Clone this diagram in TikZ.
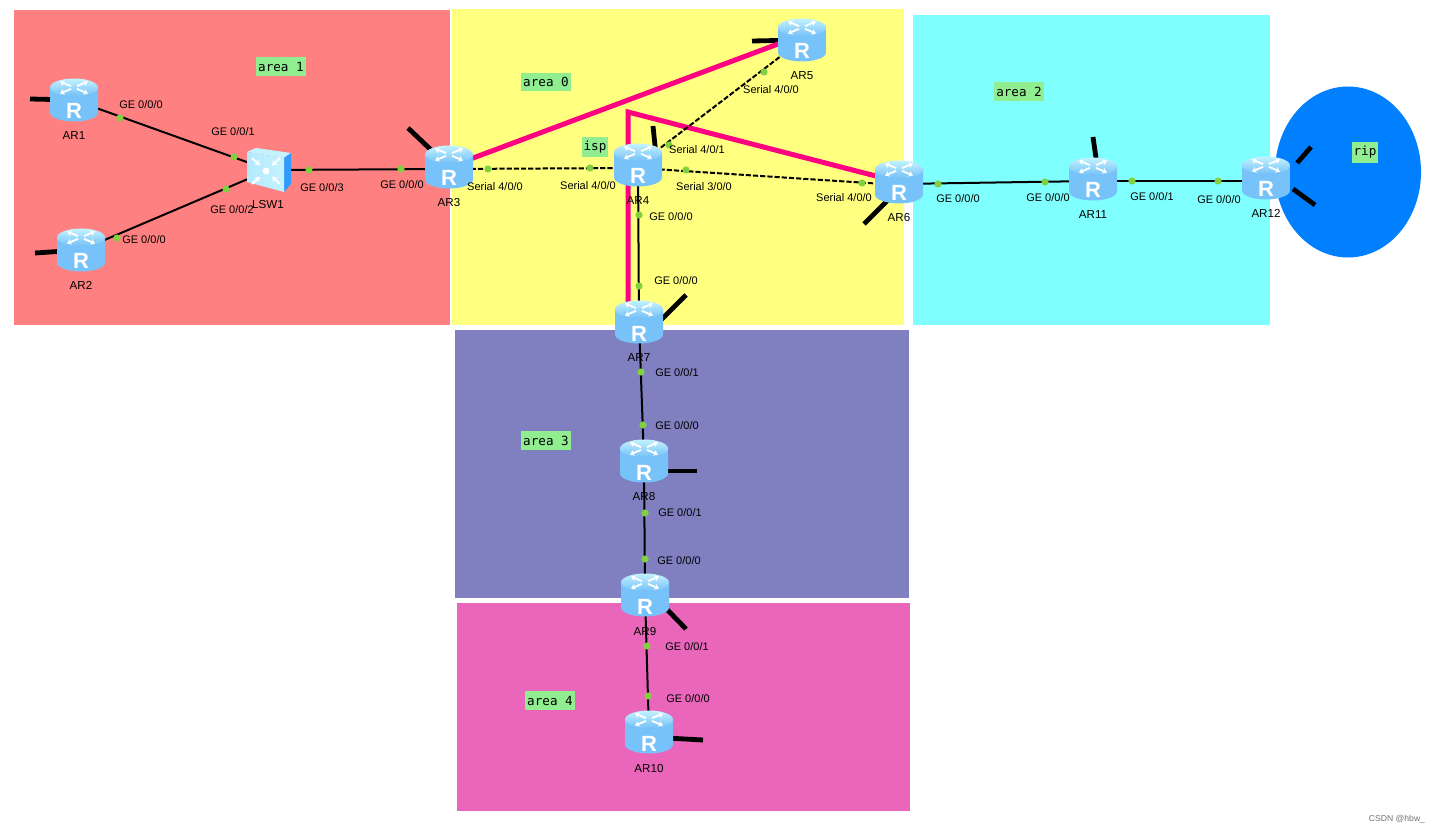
\documentclass[tikz,border=0pt]{standalone}
\usepackage{fontspec}
\setmainfont{Liberation Sans}
\newfontfamily\tagfont{DejaVu Sans Mono}
\usetikzlibrary{arrows.meta, positioning, backgrounds}

\definecolor{areared}{HTML}{FF8080}
\definecolor{areayellow}{HTML}{FFFF80}
\definecolor{areacyan}{HTML}{80FFFF}
\definecolor{areapurple}{HTML}{8080C0}
\definecolor{areapink}{HTML}{E966BB}
\definecolor{ripblue}{HTML}{0080FF}
\definecolor{tagbg}{HTML}{90EE90}
\definecolor{portgreen}{HTML}{80D040}
\definecolor{peerpink}{HTML}{FF0080}
\definecolor{bodyedge}{HTML}{78C2FA}
\definecolor{bodymid}{HTML}{B4EAFF}
\definecolor{toplight}{HTML}{C4F2FF}
\definecolor{topdark}{HTML}{74C0F8}
\newcommand{\routerR}{\raisebox{-9.5pt}[0pt][0pt]{R}}

\begin{document}
\begin{tikzpicture}[
    x=0.5pt, y=-0.5pt,
    routerbody/.pic={
        \shade[left color=bodyedge, middle color=bodymid, right color=bodyedge]
            (-12pt,6.25pt) -- (-12pt,-6.25pt) arc[start angle=180, end angle=360, x radius=12pt, y radius=4.5pt] -- (12pt,6.25pt) -- cycle;
        \shade[top color=toplight, bottom color=topdark] (0pt,6.25pt) ellipse[x radius=12pt, y radius=4.5pt];
        \foreach \dx/\dy in {1/1,-1/1,1/-1,-1/-1}
            \draw[white, line width=0.9pt, -{Stealth[length=2.2pt, width=3pt]}]
                (\dx*1.5pt,6.25pt+\dy*0.7pt) -- (\dx*7pt,6.25pt+\dy*3pt);
    },
    lswbody/.pic={
        \fill[toplight] (-11pt,9pt) -- (-6.5pt,11pt) -- (11pt,8.5pt) -- (7.5pt,6pt) -- cycle;
        \fill[ripblue!60!bodyedge] (7.5pt,6pt) -- (11pt,8.5pt) -- (11pt,-7pt) -- (7.5pt,-11pt) -- cycle;
        \shade[left color=bodymid, right color=toplight] (-11pt,9pt) -- (7.5pt,6pt) -- (7.5pt,-11pt) -- (-11pt,-6pt) -- cycle;
        \fill[white] (-1.5pt,-0.5pt) circle[radius=1.7pt];
        \foreach \dx/\dy in {1/1,-1/1,1/-1,-1/-1}
            \draw[white, line width=1pt, -{Stealth[length=2.6pt, width=3.2pt]}]
                (-1.5pt+\dx*7pt,-0.5pt+\dy*6.5pt) -- (-1.5pt+\dx*3pt,-0.5pt+\dy*2.8pt);
    },
    router/.style={minimum width=24pt, minimum height=21.5pt, inner sep=0pt, text=white,
        font=\fontsize{11}{11}\selectfont\bfseries},
    lswbox/.style={minimum width=22pt, minimum height=22pt, inner sep=0pt},
    port/.style={circle, fill=portgreen, minimum size=3.6pt, inner sep=0pt},
    ifname/.style={inner sep=0pt, font=\fontsize{5.5}{5.5}\selectfont},
    devname/.style={inner sep=0pt, font=\fontsize{5.8}{5.8}\selectfont},
    areatag/.style={fill=tagbg, inner xsep=1pt, inner ysep=2.2pt, font=\fontsize{6.3}{6.3}\tagfont},
    link/.style={line width=1pt, black},
    serial/.style={line width=1pt, black, dash pattern=on 2.6pt off 1pt},
    peer/.style={line width=2.5pt, peerpink},
    stub/.style={line width=2.4pt, black}
]
\useasboundingbox (0,0) rectangle (1442,834);

% devices
\foreach \n/\x/\y/\t in {ar1/74/100/AR1, ar2/81/250/AR2, ar3/449/167/AR3, ar4/638/165/AR4,
    ar5/802/40/AR5, ar6/899/182/AR6, ar7/639/322/AR7, ar8/644/461/AR8, ar9/645/595/AR9,
    ar10/649/732/AR10, ar11/1093/179/AR11, ar12/1266/178/AR12} {
    \pic at (\x,\y) {routerbody};
    \node[router] (\n) at (\x,\y) {\routerR};
    \node[devname, below=4.8pt of \n] (\n name) {\t};
}
\pic at (269,170) {lswbody};
\node[lswbox] (lsw1) at (269,170) {};
\node[devname, below=4pt of lsw1, xshift=-0.5pt] (lsw1 name) {LSW1};

\begin{scope}[on background layer]
% areas
\fill[areared] (14,10) rectangle (450,325);
\fill[areayellow] (452,9) rectangle (904,325);
\fill[areacyan] (913,15) rectangle (1270,325);
\fill[areapurple] (455,330) rectangle (909,598);
\fill[areapink] (457,603) rectangle (910,811);
\fill[ripblue] (1348,172) ellipse[x radius=73, y radius=85.5];

% loopbacks
\draw[stub] (ar1.center) -- (30,99);
\draw[stub] (ar2.center) -- (35,253);
\draw[stub] (ar3.center) -- (408,128);
\draw[stub] ([xshift=9.5pt]ar4.center) -- (653,126);
\draw[stub] (ar5.center) -- (752,41);
\draw[stub] ([xshift=3.5pt]ar6.center) -- (864,224);
\draw[stub] ([xshift=10pt]ar7.center) -- (686,295);
\draw[stub] ([yshift=-5pt]ar8.center) -- (697,471);
\draw[stub] ([xshift=4pt]ar9.center) -- (686,629);
\draw[stub] ([yshift=-2.5pt]ar10.center) -- (703,740);
\draw[stub] ([xshift=3pt]ar11.center) -- (1093,137);
\coordinate (rip1) at (1311,147);
\coordinate (rip2) at (1315,205);
\draw[stub, shorten <=10pt] ([xshift=9pt]ar12.center) -- (rip1);
\draw[stub, shorten <=9.3pt] ([xshift=6pt]ar12.center) -- (rip2);

% tunnels
\coordinate (bend) at (628,112);
\draw[peer] ([yshift=2.5pt]ar5.center) -- (ar3.center);
\draw[peer] ([xshift=-5.5pt]ar7.center) -- (bend) -- (ar6.center);

% links
\draw[link] (ar1.center) -- (lsw1.center);
\draw[link] (ar2.center) -- (lsw1.center);
\draw[link] (lsw1.center) -- ([yshift=-1pt]ar3.center);
\draw[serial] ([yshift=-1pt]ar3.center) -- ([yshift=-1.5pt]ar4.center);
\draw[serial] (ar4.center) -- (ar5.center);
\draw[serial] ([yshift=-1.5pt]ar4.center) -- ([yshift=-1.5pt]ar6.center);
\draw[link] (ar4.center) -- (ar7.center);
\draw[link] (ar7.center) -- (ar8.center);
\draw[link] (ar8.center) -- (ar9.center);
\draw[link] (ar9.center) -- (ar10.center);
\draw[link] ([yshift=-1pt]ar6.center) -- ([yshift=-1pt]ar11.center);
\draw[link] ([yshift=-1pt]ar11.center) -- ([yshift=-1.5pt]ar12.center);
\end{scope}

% interface points
\foreach \x/\y [count=\i] in {120/118, 234/157, 226/189, 117/238, 309/170, 401/169, 488/169, 590/168,
    686/170, 862/183, 669/145, 764/72, 639/215, 639/286, 641/372, 643/425, 645/513, 645/559,
    647/646, 648/696, 938/184, 1045/182, 1132/181, 1218/181}
    \node[port] (port\i) at (\x,\y) {};

% interface names
\foreach \x/\y/\t [count=\i] in {141/105/{GE 0/0/0}, 233/132/{GE 0/0/1}, 232/210/{GE 0/0/2}, 144/240/{GE 0/0/0},
    322/188/{GE 0/0/3}, 402/185/{GE 0/0/0}, 495/187/{Serial 4/0/0}, 588/186/{Serial 4/0/0},
    704/187/{Serial 3/0/0}, 844/198/{Serial 4/0/0}, 697/150/{Serial 4/0/1}, 771/90/{Serial 4/0/0},
    671/217/{GE 0/0/0}, 676/281/{GE 0/0/0}, 677/373/{GE 0/0/1}, 677/426/{GE 0/0/0},
    680/513/{GE 0/0/1}, 679/561/{GE 0/0/0}, 687/647/{GE 0/0/1}, 688/699/{GE 0/0/0},
    958/199/{GE 0/0/0}, 1048/198/{GE 0/0/0}, 1152/197/{GE 0/0/1}, 1219/200/{GE 0/0/0}}
    \node[ifname] (if\i) at (\x,\y) {\t};

% area tags
\node[areatag] (tag1) at (281,66.5) {area 1};
\node[areatag] (tag0) at (546,82) {area 0};
\node[areatag] (tagisp) at (595,147) {isp};
\node[areatag] (tag2) at (1019,91.5) {area 2};
\node[areatag] (tag3) at (546,440.5) {area 3};
\node[areatag] (tag4) at (550,700.5) {area 4};
\node[areatag] (tagrip) at (1365,152.5) {rip};

\node[inner sep=0pt, text=black!55, font=\fontsize{4.3}{4.3}\selectfont] (mark) at (1397,819) {CSDN @hbw\_};
\end{tikzpicture}
\end{document}
